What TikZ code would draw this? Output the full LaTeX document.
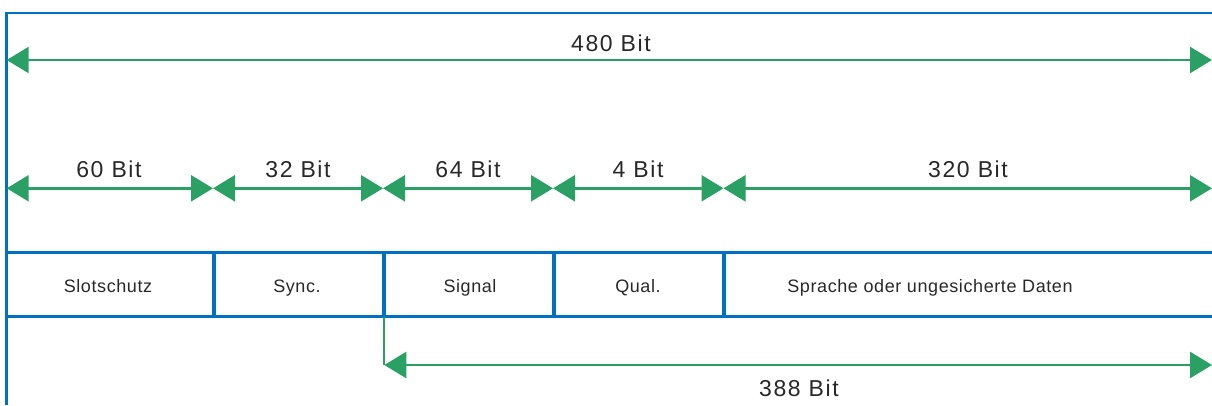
\documentclass[tikz,border=0pt]{standalone}
\usepackage{fontspec}
\setmainfont{Liberation Sans}
\newfontfamily\bitfont[LetterSpace=7]{Liberation Sans}
\newfontfamily\fieldfont[LetterSpace=3.3]{Liberation Sans}
\usetikzlibrary{arrows.meta}
\definecolor{frameblue}{RGB}{0,112,192}
\definecolor{dimgreen}{RGB}{42,160,100}
\definecolor{ink}{RGB}{40,40,40}
\begin{document}
\begin{tikzpicture}[x=1pt,y=-1pt,
  frameline/.style={draw=frameblue,line width=2.5pt},
  divider/.style={draw=frameblue,line width=4pt},
  leader/.style={draw=dimgreen,line width=2pt},
  dimline/.style={draw=dimgreen,line width=2.5pt,
    {Triangle[length=22pt,width=26pt]}-{Triangle[length=22pt,width=26pt]}},
  bitlabel/.style={text=ink,font=\bitfont\fontsize{23}{27}\selectfont,inner sep=0pt,anchor=base},
  fieldlabel/.style={text=ink,font=\fieldfont\fontsize{18}{21}\selectfont,inner sep=0pt,anchor=base}]
\useasboundingbox (0,0) rectangle (1212,405);

% outer frame (left and top edges)
\coordinate (fl) at (6.7,405);
\coordinate (ftl) at (6.7,13);
\coordinate (ftr) at (1212,13);
\draw[frameline] (fl) -- (ftl) -- (ftr);

% field row: horizontal rules and dividers
\coordinate (rt0) at (6.7,252.7);  \coordinate (rt1) at (1212,252.7);
\coordinate (rb0) at (6.7,316.7);  \coordinate (rb1) at (1212,316.7);
\draw[frameline] (rt0) -- (rt1);
\draw[frameline] (rb0) -- (rb1);
\foreach \i/\x in {1/213.8,2/383.8,3/553.8,4/723.8}{
  \coordinate (dt\i) at (\x,252.7);
  \coordinate (db\i) at (\x,316.7);
  \draw[divider] (dt\i) -- (db\i);
}

% field names
\node[fieldlabel] (slot) at (108,292) {Slotschutz};
\node[fieldlabel] (sync) at (297,292) {Sync.};
\node[fieldlabel] (sig)  at (470,292) {Signal};
\node[fieldlabel] (qual) at (638,292) {Qual.};
\node[fieldlabel] (data) at (930,292) {Sprache oder ungesicherte Daten};

% total length
\coordinate (a0) at (6.7,60);
\coordinate (a1) at (1212,60);
\draw[dimline] (a0) -- (a1);
\node[bitlabel] (l480) at (611,51.7) {480 Bit};

% field lengths
\coordinate (b0) at (6.7,188.3);
\coordinate (b1) at (213,188.3);
\coordinate (b2) at (383,188.3);
\coordinate (b3) at (553,188.3);
\coordinate (b4) at (723.5,188.3);
\coordinate (b5) at (1212,188.3);
\draw[dimline] (b0) -- (b1);
\draw[dimline] (b1) -- (b2);
\draw[dimline] (b2) -- (b3);
\draw[dimline] (b3) -- (b4);
\draw[dimline] (b4) -- (b5);
\node[bitlabel] (l60)  at (109,177.7) {60 Bit};
\node[bitlabel] (l32)  at (298,177.7) {32 Bit};
\node[bitlabel] (l64)  at (468,177.7) {64 Bit};
\node[bitlabel] (l4)   at (638,177.7) {4 Bit};
\node[bitlabel] (l320) at (968,177.7) {320 Bit};

% protected part from the signal field onwards
\coordinate (c0) at (384.3,316.7);
\coordinate (c1) at (384.3,365);
\coordinate (c2) at (1212,365);
\draw[leader] (c0) -- (c1);
\draw[dimline] (c1) -- (c2);
\node[bitlabel] (l388) at (799,396) {388 Bit};
\end{tikzpicture}
\end{document}
